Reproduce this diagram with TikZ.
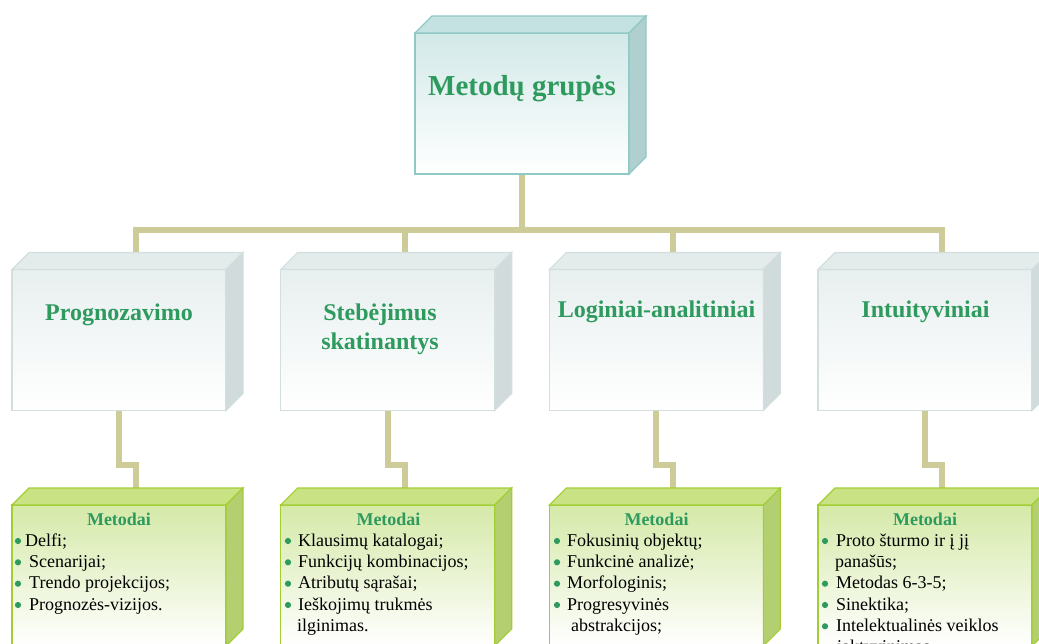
\documentclass[tikz,border=0pt]{standalone}
\usepackage{fontspec}
\setmainfont{Liberation Serif}
\usetikzlibrary{calc}
\definecolor{conncol}{HTML}{CDCB97}
\definecolor{tealedge}{HTML}{8FC9C6}
\definecolor{tealfront}{HTML}{D2E9E8}
\definecolor{tealtop}{HTML}{C4E2E1}
\definecolor{tealside}{HTML}{AFD0CF}
\definecolor{grayedge}{HTML}{D2DFDE}
\definecolor{grayfront}{HTML}{E8EFEF}
\definecolor{graytop}{HTML}{E3EBEB}
\definecolor{grayside}{HTML}{D1DBDB}
\definecolor{limeedge}{HTML}{A2CE34}
\definecolor{limefront}{HTML}{D5E9A8}
\definecolor{limetop}{HTML}{C9E284}
\definecolor{limeside}{HTML}{B3CF70}
\definecolor{txtgreen}{HTML}{2E9A5E}
\newcommand\cuboid[7]{%
  \node[#4] (#1) at (#2,#3) {};
  \filldraw[draw=#7, line width=1.1pt, line join=miter, fill=#5]
    (#1.north west) -- ++(17,-17) -- ($(#1.north east)+(17,-17)$) -- (#1.north east) -- cycle;
  \filldraw[draw=#7, line width=1.1pt, line join=miter, fill=#6]
    (#1.north east) -- ++(17,-17) -- ($(#1.south east)+(17,-17)$) -- (#1.south east) -- cycle;
}
\tikzset{
  face/.style={minimum width=214pt, minimum height=141pt, inner sep=0pt, outer sep=0pt, line width=1.1pt},
  tealface/.style={face, draw=tealedge, top color=tealfront, bottom color=white},
  grayface/.style={face, draw=grayedge, top color=grayfront, bottom color=white},
  limeface/.style={face, draw=limeedge, top color=limefront, bottom color=white},
  conn/.style={draw=conncol, line width=6pt, line join=miter},
  bigttl/.style={anchor=base, inner sep=0pt, text=txtgreen, font=\fontsize{29}{34}\selectfont\bfseries},
  midttl/.style={anchor=base, inner sep=0pt, text=txtgreen, font=\fontsize{24}{28}\selectfont\bfseries},
  methttl/.style={anchor=base, inner sep=0pt, text=txtgreen, font=\fontsize{18}{21}\selectfont\bfseries},
  itm/.style={anchor=base west, inner sep=0pt, text=black, font=\fontsize{18}{21}\selectfont},
  bul/.style={fill=txtgreen}
}
\begin{document}
\begin{tikzpicture}[x=1pt,y=-1pt]
\useasboundingbox (0,0) rectangle (1039,644);
\clip (0,0) rectangle (1039,644);
\fill[white] (0,0) rectangle (1039,644);

% coordinates for connector ends
\coordinate (Tbot) at (522,174);
\coordinate (bar) at (522,230);
\coordinate (m1top) at (136,253);
\coordinate (m2top) at (404.7,253);
\coordinate (m3top) at (673.3,253);
\coordinate (m4top) at (942,253);
\coordinate (b1top) at (136,488);
\coordinate (b2top) at (404.7,488);
\coordinate (b3top) at (673.3,488);
\coordinate (b4top) at (942,488);
\coordinate (m1bot) at (119,411);
\coordinate (m2bot) at (387.7,411);
\coordinate (m3bot) at (656.3,411);
\coordinate (m4bot) at (925,411);

% connectors
\draw[conn] (Tbot) -- (bar);
\draw[conn] (m1top) |- (bar) -| (m4top);
\draw[conn] (m2top) -- (m2top |- bar);
\draw[conn] (m3top) -- (m3top |- bar);
\foreach \i in {1,2,3,4}{
  \draw[conn] (m\i bot) -- ++(0,54) -| (b\i top);
}

% top box
\cuboid{T}{522}{103.5}{tealface}{tealtop}{tealside}{tealedge}
\node[bigttl] (Tt) at (522,96) {Metodų grupės};

% middle boxes
\cuboid{m1}{119}{340}{grayface}{graytop}{grayside}{grayedge}
\cuboid{m2}{387.7}{340}{grayface}{graytop}{grayside}{grayedge}
\cuboid{m3}{656.3}{340}{grayface}{graytop}{grayside}{grayedge}
\cuboid{m4}{925}{340}{grayface}{graytop}{grayside}{grayedge}
\node[midttl] (m1t) at (119,321) {Prognozavimo};
\node[midttl] (m2t) at (380,321) {Stebėjimus};
\node[midttl] (m2tb) at (380,349) {skatinantys};
\node[midttl] (m3t) at (656.5,318) {Loginiai-analitiniai};
\node[midttl] (m4t) at (925.5,318) {Intuityviniai};

% bottom boxes
\cuboid{b1}{119}{575.5}{limeface}{limetop}{limeside}{limeedge}
\cuboid{b2}{387.7}{575.5}{limeface}{limetop}{limeside}{limeedge}
\cuboid{b3}{656.3}{575.5}{limeface}{limetop}{limeside}{limeedge}
\cuboid{b4}{925}{575.5}{limeface}{limetop}{limeside}{limeedge}
\node[methttl] (b1h) at (119,525) {Metodai};
\node[methttl] (b2h) at (388.5,525) {Metodai};
\node[methttl] (b3h) at (656.5,525) {Metodai};
\node[methttl] (b4h) at (925,525) {Metodai};

% list 1
\node[itm] (b1a) at (25,546) {Delfi;};
\node[itm] (b1b) at (29,567.3) {Scenarijai;};
\node[itm] (b1c) at (29,588.7) {Trendo projekcijos;};
\node[itm] (b1d) at (29,610) {Prognozės-vizijos.};
\foreach \y in {546,567.3,588.7,610}{\fill[bul] (18,\y-5) circle (3.1);}

% list 2
\node[itm] (b2a) at (298,546) {Klausimų katalogai;};
\node[itm] (b2b) at (298,567.3) {Funkcijų kombinacijos;};
\node[itm] (b2c) at (298,588.7) {Atributų sąrašai;};
\node[itm] (b2d) at (298,610) {Ieškojimų trukmės};
\node[itm] (b2e) at (297,631.3) {ilginimas.};
\foreach \y in {546,567.3,588.7,610}{\fill[bul] (288,\y-5) circle (3.1);}

% list 3
\node[itm] (b3a) at (567,546) {Fokusinių objektų;};
\node[itm] (b3b) at (567,567.3) {Funkcinė analizė;};
\node[itm] (b3c) at (567,588.7) {Morfologinis;};
\node[itm] (b3d) at (567,610) {Progresyvinės};
\node[itm] (b3e) at (571,631.3) {abstrakcijos;};
\foreach \y in {546,567.3,588.7,610}{\fill[bul] (557,\y-5) circle (3.1);}

% list 4
\node[itm] (b4a) at (836,546) {Proto šturmo ir į jį};
\node[itm] (b4b) at (835,567.3) {panašūs;};
\node[itm] (b4c) at (836,588.7) {Metodas 6-3-5;};
\node[itm] (b4d) at (836,610) {Sinektika;};
\node[itm] (b4e) at (836,631.3) {Intelektualinės veiklos};
\node[itm] (b4f) at (837,652.6) {įaktyvinimas};
\foreach \y in {546,588.7,610,631.3}{\fill[bul] (825,\y-5) circle (3.1);}
\end{tikzpicture}
\end{document}
